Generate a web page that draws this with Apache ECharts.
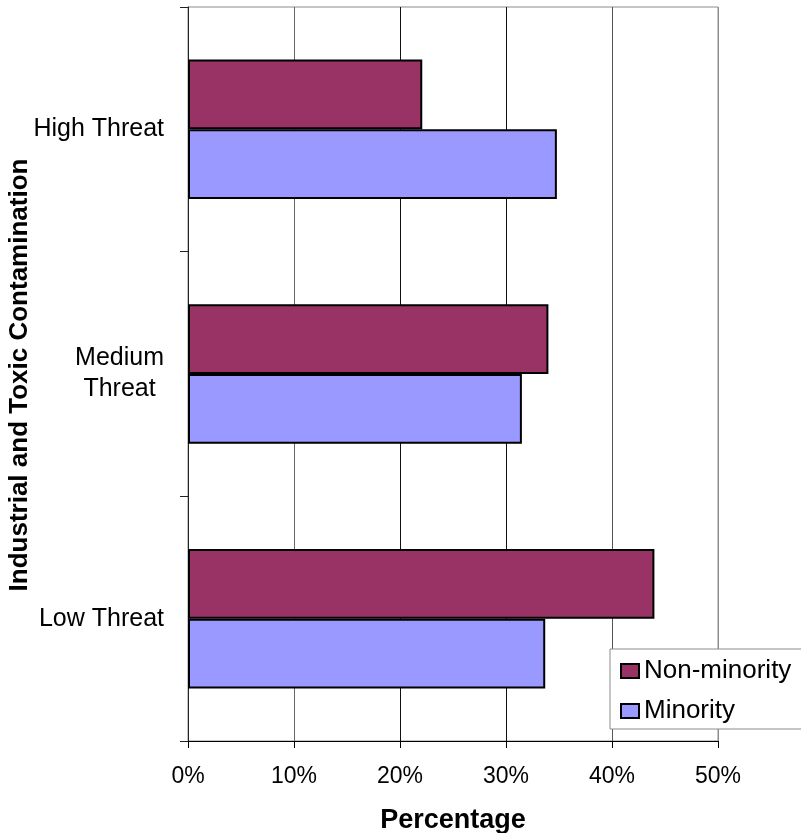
<!DOCTYPE html>
<html>
<head>
<meta charset="utf-8">
<script src="https://cdn.jsdelivr.net/npm/echarts@6/dist/echarts.min.js"></script>
<style>
  html, body { margin: 0; padding: 0; background: #fff; }
  #chart { width: 801px; height: 833px; }
</style>
</head>
<body>
<div id="chart"></div>
<script>
// Threat levels (top to bottom) and share of each group, in percent
const categories = ['High Threat', 'Medium\nThreat', 'Low Threat'];
const nonMinority = [22.1, 34.0, 44.0];
const minority = [34.8, 31.5, 33.7];
const seriesNames = ['Non-minority', 'Minority'];
const xTicks = [0, 10, 20, 30, 40, 50];
const yTitle = 'Industrial and Toxic Contamination';
const xTitle = 'Percentage';

const FONT = '"Liberation Sans", Arial, sans-serif';

const chart = echarts.init(document.getElementById('chart'), null, { renderer: 'canvas' });

chart.setOption({
  animation: false,
  backgroundColor: '#ffffff',
  grid: {
    left: 188,
    top: 7,
    width: 530,
    height: 734,
    outerBoundsMode: 'none',
    containLabel: false,
    show: true,
    borderColor: '#8c8c8c',
    borderWidth: 1,
    backgroundColor: 'transparent'
  },
  // vertical title of the category axis, centred on the plot height
  graphic: [
    {
      type: 'text',
      x: 20,
      y: 375,
      rotation: Math.PI / 2,
      style: {
        text: yTitle,
        font: 'bold 26px ' + FONT,
        fill: '#000',
        align: 'center',
        verticalAlign: 'middle'
      }
    }
  ],
  legend: {
    data: seriesNames,
    orient: 'vertical',
    left: 610,
    top: 649,
    padding: [9, 24, 5, 10],
    itemGap: 14,
    itemWidth: 18,
    itemHeight: 14,
    icon: 'rect',
    backgroundColor: '#ffffff',
    borderColor: '#8c8c8c',
    borderWidth: 1,
    borderRadius: 0,
    textStyle: { fontFamily: FONT, fontSize: 26, color: '#000' }
  },
  xAxis: {
    type: 'value',
    min: xTicks[0],
    max: xTicks[xTicks.length - 1],
    interval: xTicks[1] - xTicks[0],
    name: xTitle,
    nameLocation: 'middle',
    nameGap: 66,
    nameTextStyle: { fontFamily: FONT, fontSize: 27, fontWeight: 'bold', color: '#000' },
    axisLine: { show: true, lineStyle: { color: '#000', width: 1 } },
    axisTick: { show: true, length: 7, lineStyle: { color: '#000' } },
    axisLabel: {
      fontFamily: FONT, fontSize: 23, color: '#000', margin: 24,
      formatter: v => v + '%'
    },
    splitLine: {
      show: true,
      lineStyle: { color: ['#000', '#666', '#111', '#111', '#555', '#8c8c8c'], width: 1 }
    }
  },
  yAxis: {
    type: 'category',
    data: categories,
    inverse: true,
    axisLine: { show: true, lineStyle: { color: '#222', width: 1 } },
    axisTick: { show: true, length: 8, lineStyle: { color: '#222' } },
    axisLabel: {
      margin: 24,
      color: '#000',
      fontFamily: FONT,
      fontSize: 25,
      formatter: v => v.split('\n').map(s => '{c|' + s + '}').join('\n'),
      rich: {
        c: { align: 'center', fontFamily: FONT, fontSize: 25, lineHeight: 31, color: '#000' }
      }
    },
    splitLine: { show: false }
  },
  series: [
    {
      name: seriesNames[0],
      type: 'bar',
      data: nonMinority,
      barGap: '0%',
      barCategoryGap: '43%',
      itemStyle: { color: '#993366', borderColor: '#000', borderWidth: 2 }
    },
    {
      name: seriesNames[1],
      type: 'bar',
      data: minority,
      barGap: '0%',
      barCategoryGap: '43%',
      itemStyle: { color: '#9999ff', borderColor: '#000', borderWidth: 2 }
    }
  ]
});
</script>
</body>
</html>
